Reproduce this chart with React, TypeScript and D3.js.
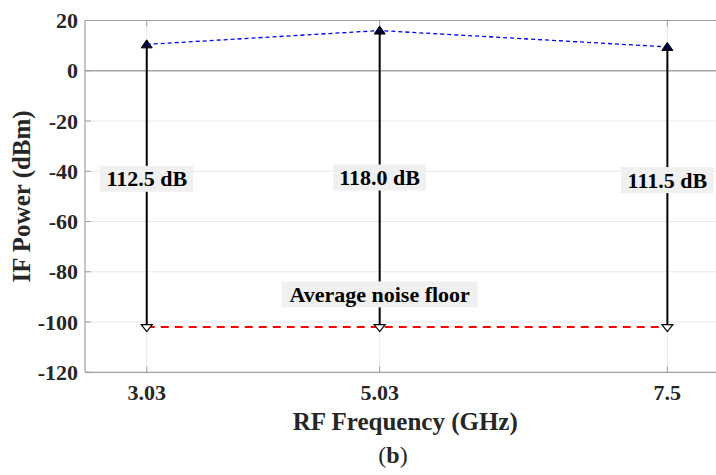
import React from "react";
import * as d3 from "d3";

const freqs = [3.03, 5.03, 7.5];
const freqLabels = ["3.03", "5.03", "7.5"];
const ifPower = [10.5, 16.0, 9.5];
const noiseFloor = [-102, -102, -102];
const dynLabels = ["112.5 dB", "118.0 dB", "111.5 dB"];
const dynLabelY = [-43, -42.5, -43.5];
const yTicks = [20, 0, -20, -40, -60, -80, -100, -120];
const noiseText = "Average noise floor";
const noiseTextPos = { x: 5.03, y: -89 };

const W = 716;
const H = 475;
const left = 85;
const top = 20.5;
const bottom = 372.3;
const right = 725.6;
const font = "'Liberation Serif', 'Times New Roman', serif";

export default function App() {
  const x = d3.scaleLinear().domain([2.5, 8]).range([left, right]);
  const y = d3.scaleLinear().domain([-120, 20]).range([bottom, top]);
  const lineGen = d3
    .line<[number, number]>()
    .x((d) => x(d[0]))
    .y((d) => y(d[1]));
  const sigPts: [number, number][] = freqs.map((f, i) => [f, ifPower[i]]);
  const noisePts: [number, number][] = freqs.map((f, i) => [f, noiseFloor[i]]);
  const tri = 5.5;
  const triH = 7;

  const boxText = (txt: string, cx: number, cy: number, w: number, key: string) => (
    <g key={key}>
      <rect x={cx - w / 2} y={cy - 13} width={w} height={26} fill="#f0f0f0" />
      <text
        x={cx}
        y={cy + 7.5}
        textAnchor="middle"
        fontFamily={font}
        fontWeight="bold"
        fontSize={22}
        fill="#000"
      >
        {txt}
      </text>
    </g>
  );

  return (
    <svg
      width={W}
      height={H}
      style={{ position: "absolute", left: 0, top: 0, background: "#fff" }}
    >
      <rect x={0} y={0} width={W} height={H} fill="#fff" />
      {/* grid */}
      {yTicks.map((t) => (
        <line
          key={"gy" + t}
          x1={left}
          x2={right}
          y1={y(t)}
          y2={y(t)}
          stroke={t === 0 ? "#a6a6a6" : "#e8e8e8"}
          strokeWidth={t === 0 ? 1.3 : 1}
        />
      ))}
      {freqs.map((f) => (
        <line
          key={"gx" + f}
          x1={x(f)}
          x2={x(f)}
          y1={top}
          y2={bottom}
          stroke="#e8e8e8"
          strokeWidth={1}
        />
      ))}
      {/* axes box */}
      <line x1={left} x2={right} y1={top} y2={top} stroke="#a0a0a0" strokeWidth={1.2} />
      <line x1={left} x2={right} y1={bottom} y2={bottom} stroke="#a0a0a0" strokeWidth={1.2} />
      <line x1={left} x2={left} y1={top} y2={bottom} stroke="#a0a0a0" strokeWidth={1.2} />
      {/* tick marks */}
      {freqs.map((f) => (
        <g key={"tx" + f}>
          <line x1={x(f)} x2={x(f)} y1={bottom} y2={bottom - 6} stroke="#a0a0a0" />
          <line x1={x(f)} x2={x(f)} y1={top} y2={top + 6} stroke="#a0a0a0" />
        </g>
      ))}
      {yTicks.map((t) => (
        <line key={"ty" + t} x1={left} x2={left + 6} y1={y(t)} y2={y(t)} stroke="#a0a0a0" />
      ))}
      {/* tick labels */}
      {yTicks.map((t) => (
        <text
          key={"yl" + t}
          x={left - 7}
          y={y(t) + 7.5}
          textAnchor="end"
          fontFamily={font}
          fontWeight="bold"
          fontSize={22}
          fill="#262626"
        >
          {t}
        </text>
      ))}
      {freqs.map((f, i) => (
        <text
          key={"xl" + f}
          x={x(f)}
          y={400}
          textAnchor="middle"
          fontFamily={font}
          fontWeight="bold"
          fontSize={22}
          fill="#262626"
        >
          {freqLabels[i]}
        </text>
      ))}
      {/* axis titles */}
      <text
        x={(left + right) / 2}
        y={430}
        textAnchor="middle"
        fontFamily={font}
        fontWeight="bold"
        fontSize={25}
        fill="#262626"
      >
        RF Frequency (GHz)
      </text>
      <text
        transform={`translate(30, ${(top + bottom) / 2}) rotate(-90)`}
        textAnchor="middle"
        fontFamily={font}
        fontWeight="bold"
        fontSize={25}
        fill="#262626"
      >
        IF Power (dBm)
      </text>
      <text
        x={393}
        y={463}
        textAnchor="middle"
        fontFamily={font}
        fontSize={24}
        fill="#262626"
      >
        (<tspan fontWeight="bold">b</tspan>)
      </text>
      {/* signal line */}
      <path
        d={lineGen(sigPts) || ""}
        fill="none"
        stroke="#0000ff"
        strokeWidth={1.3}
        strokeDasharray="4,3"
      />
      {/* noise floor line */}
      <path
        d={lineGen(noisePts) || ""}
        fill="none"
        stroke="#ff0000"
        strokeWidth={2}
        strokeDasharray="8,6"
      />
      {/* arrows */}
      {freqs.map((f, i) => (
        <line
          key={"ar" + f}
          x1={x(f)}
          x2={x(f)}
          y1={y(noiseFloor[i])}
          y2={y(ifPower[i])}
          stroke="#000"
          strokeWidth={2}
        />
      ))}
      {sigPts.map((p, i) => {
        const cx = x(p[0]);
        const cy = y(p[1]);
        return (
          <path
            key={"up" + i}
            d={`M${cx},${cy - triH / 2 - 1}L${cx + tri},${cy + triH / 2}L${cx - tri},${cy + triH / 2}Z`}
            fill="#000033"
            stroke="#000"
            strokeWidth={1}
          />
        );
      })}
      {noisePts.map((p, i) => {
        const cx = x(p[0]);
        const cy = y(p[1]);
        return (
          <path
            key={"dn" + i}
            d={`M${cx - tri},${cy - triH / 2 + 1}L${cx + tri},${cy - triH / 2 + 1}L${cx},${cy + triH / 2 + 1}Z`}
            fill="#fff"
            stroke="#000"
            strokeWidth={1.2}
          />
        );
      })}
      {/* labels */}
      {freqs.map((f, i) =>
        boxText(dynLabels[i], x(f), y(dynLabelY[i]), 93, "lb" + i)
      )}
      {boxText(noiseText, x(noiseTextPos.x), y(noiseTextPos.y), 196, "noise")}
    </svg>
  );
}
